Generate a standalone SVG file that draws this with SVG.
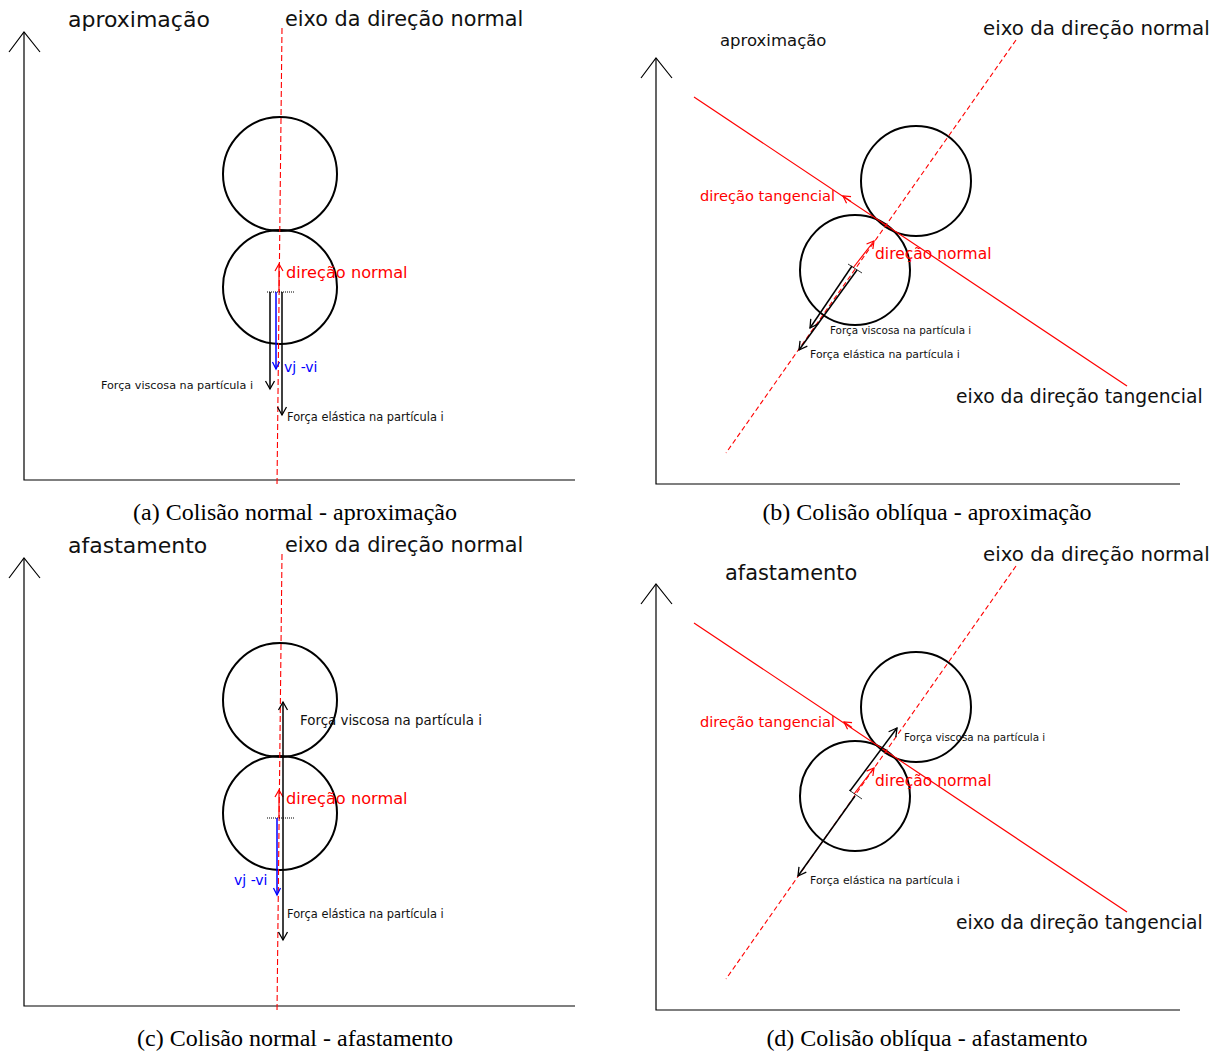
<svg xmlns="http://www.w3.org/2000/svg" width="1220" height="1057" viewBox="0 0 1220 1057">
<style>
.bg{fill:#fff}
.circ{fill:none;stroke:#000;stroke-width:2}
.axis{fill:none;stroke:#000;stroke-width:1.2}
.nd{fill:none;stroke:#f00;stroke-width:1.1;stroke-dasharray:6 3}
.tl{fill:none;stroke:#f00;stroke-width:1.2}
.fk{fill:none;stroke:#000;stroke-width:1.5;marker-end:url(#ak)}
.fb{fill:none;stroke:#00f;stroke-width:1.5;marker-end:url(#ab)}
.fr{fill:none;stroke:#f00;stroke-width:1.2;marker-end:url(#ar)}
.dot{fill:none;stroke:#000;stroke-width:1;stroke-dasharray:1 1}
.tick{fill:none;stroke:#000;stroke-width:0.8}
text{font-family:"DejaVu Sans",Verdana,sans-serif;fill:#111}
.cap{font-family:"Liberation Serif","Times New Roman",serif;font-size:24px;fill:#000;text-anchor:middle}
.red{fill:#f00}
.blue{fill:#00f;font-size:14px}
</style>
<defs>
<marker id="ak" markerUnits="userSpaceOnUse" markerWidth="12" markerHeight="12" viewBox="-10 -6 12 12" refX="0" refY="0" orient="auto"><path d="M-8,-4.5 L0,0 L-8,4.5" fill="none" stroke="#000" stroke-width="1.3"/></marker>
<marker id="ab" markerUnits="userSpaceOnUse" markerWidth="12" markerHeight="12" viewBox="-10 -6 12 12" refX="0" refY="0" orient="auto"><path d="M-7,-3.5 L0,0 L-7,3.5" fill="none" stroke="#00f" stroke-width="1.3"/></marker>
<marker id="ar" markerUnits="userSpaceOnUse" markerWidth="12" markerHeight="12" viewBox="-10 -6 12 12" refX="0" refY="0" orient="auto"><path d="M-7,-4 L0,0 L-7,4" fill="none" stroke="#f00" stroke-width="1.2"/></marker>
</defs>
<rect class="bg" x="0" y="0" width="1220" height="1057"/>

<!-- Panel (a) -->
<g id="panel-a">
  <g id="a-axes"><path class="axis" d="M24,32 L24,480 L575,480"/><polyline class="axis" points="9,52 24,32 40,52"/></g>
  <g id="a-particle-j"><circle class="circ" cx="280" cy="174" r="57"/></g>
  <g id="a-particle-i"><circle class="circ" cx="280" cy="287" r="57"/></g>
  <g id="a-connectors">
    <path class="nd" d="M282,28 L277,486"/>
    <path class="fr" d="M279,292 L279,264"/>
    <path class="dot" d="M267,292 L294,292"/>
    <path class="fk" d="M270,292 L270,389"/>
    <path class="fb" d="M276,292 L276,369"/>
    <path class="fk" d="M282,292 L282,415"/>
  </g>
  <text x="68" y="27" font-size="22">aproximação</text>
  <text x="285" y="26" font-size="20.8">eixo da direção normal</text>
  <text class="red" x="286" y="278" font-size="16.2">direção normal</text>
  <text x="253" y="389" text-anchor="end" font-size="11.2">Força viscosa na partícula i</text>
  <text class="blue" x="284" y="372">vj -vi</text>
  <text x="287" y="421" font-size="11.4">Força elástica na partícula i</text>
  <text class="cap" x="295" y="520">(a) Colisão normal - aproximação</text>
</g>

<!-- Panel (b) -->
<g id="panel-b">
  <g id="b-axes"><path class="axis" d="M656,58 L656,484 L1180,484"/><polyline class="axis" points="641,78 656,58 672,78"/></g>
  <g id="b-particle-j"><circle class="circ" cx="916" cy="181" r="55"/></g>
  <g id="b-particle-i"><circle class="circ" cx="855" cy="270" r="55"/></g>
  <g id="b-connectors">
    <path class="nd" d="M1016,40 L726,453" style="stroke-dasharray:5 3"/>
    <path class="tl" d="M694,97 L1127,386"/>
    <path class="fr" d="M851,201.4 L843,196"/>
    <path class="fr" d="M853,268 L874,241"/>
    <path class="tick" d="M848,264 L862,273"/>
    <path class="fk" d="M852,266 L810,328"/>
    <path class="fk" d="M857,270 L799,350"/>
  </g>
  <text x="720" y="46" font-size="16.5">aproximação</text>
  <text x="983" y="35" font-size="19.8">eixo da direção normal</text>
  <text class="red" x="700" y="201" font-size="14.6">direção tangencial</text>
  <text class="red" x="875" y="259" font-size="15.5">direção normal</text>
  <text x="830" y="334" font-size="10.4">Força viscosa na partícula i</text>
  <text x="810" y="358" font-size="10.9">Força elástica na partícula i</text>
  <text x="956" y="403" font-size="18.7">eixo da direção tangencial</text>
  <text class="cap" x="927" y="520">(b) Colisão oblíqua - aproximação</text>
</g>

<!-- Panel (c) -->
<g id="panel-c">
  <g id="c-axes"><path class="axis" d="M24,558 L24,1006 L575,1006"/><polyline class="axis" points="9,578 24,558 40,578"/></g>
  <g id="c-particle-j"><circle class="circ" cx="280" cy="700" r="57"/></g>
  <g id="c-particle-i"><circle class="circ" cx="280" cy="813" r="57"/></g>
  <g id="c-connectors">
    <path class="nd" d="M282,554 L277,1012"/>
    <path class="fr" d="M279,818 L279,790"/>
    <path class="dot" d="M267,818 L294,818"/>
    <path class="fk" d="M283,818 L283,702"/>
    <path class="fk" d="M283,818 L283,940"/>
    <path class="fb" d="M277,818 L277,895"/>
  </g>
  <text x="68" y="553" font-size="22">afastamento</text>
  <text x="285" y="552" font-size="20.8">eixo da direção normal</text>
  <text class="red" x="286" y="804" font-size="16.2">direção normal</text>
  <text x="300" y="725" font-size="13.4">Força viscosa na partícula i</text>
  <text class="blue" x="234" y="885">vj -vi</text>
  <text x="287" y="918" font-size="11.4">Força elástica na partícula i</text>
  <text class="cap" x="295" y="1046">(c) Colisão normal - afastamento</text>
</g>

<!-- Panel (d) -->
<g id="panel-d">
  <g id="d-axes"><path class="axis" d="M656,584 L656,1010 L1180,1010"/><polyline class="axis" points="641,604 656,584 672,604"/></g>
  <g id="d-particle-j"><circle class="circ" cx="916" cy="707" r="55"/></g>
  <g id="d-particle-i"><circle class="circ" cx="855" cy="796" r="55"/></g>
  <g id="d-connectors">
    <path class="nd" d="M1016,566 L726,979" style="stroke-dasharray:5 3"/>
    <path class="tl" d="M694,623 L1127,912"/>
    <path class="fr" d="M852,727.4 L844,722"/>
    <path class="fr" d="M854,794 L874,768"/>
    <path class="tick" d="M849,790 L862,799"/>
    <path class="fk" d="M850,791 L897,728"/>
    <path class="fk" d="M855,796 L798,876"/>
  </g>
  <text x="725" y="580" font-size="20.9">afastamento</text>
  <text x="983" y="561" font-size="19.8">eixo da direção normal</text>
  <text class="red" x="700" y="727" font-size="14.6">direção tangencial</text>
  <text class="red" x="875" y="786" font-size="15.5">direção normal</text>
  <text x="904" y="741" font-size="10.4">Força viscosa na partícula i</text>
  <text x="810" y="884" font-size="10.9">Força elástica na partícula i</text>
  <text x="956" y="929" font-size="18.7">eixo da direção tangencial</text>
  <text class="cap" x="927" y="1046">(d) Colisão oblíqua - afastamento</text>
</g>
</svg>
